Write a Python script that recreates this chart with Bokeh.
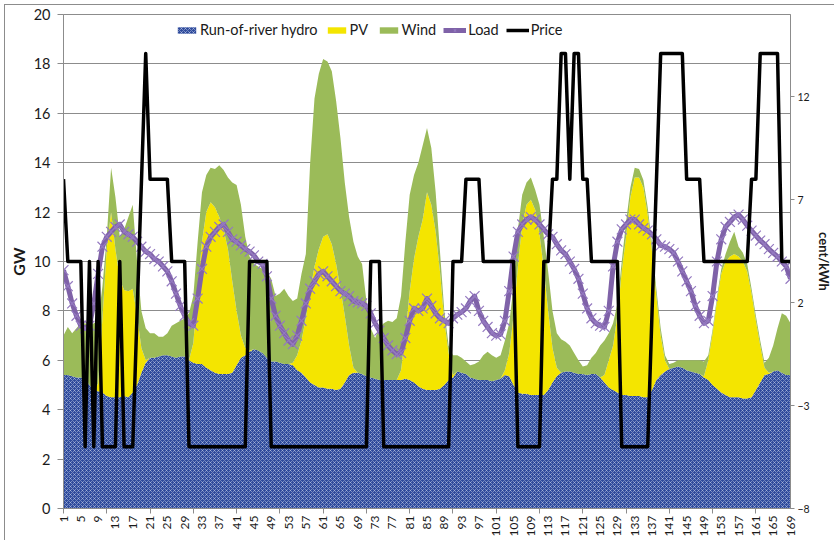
import math
from bokeh.plotting import figure
from bokeh.models import (ColumnDataSource, Range1d, LinearAxis, FixedTicker,
                          Legend, LegendItem)
from bokeh.transform import stack
from bokeh.embed import file_html
from bokeh.resources import INLINE

# ---------------- data ----------------
hours = list(range(1, 170))

hydro = [5.4, 5.4, 5.35, 5.3, 5.3, 5.25,
         5.0, 4.8, 4.75, 4.7, 4.55, 4.5,
         4.5, 4.5, 4.55, 4.5, 4.7, 5.0,
         5.5, 5.9, 6.1, 6.1, 6.15, 6.2,
         6.2, 6.15, 6.1, 6.15, 6.15, 6.0,
         5.9, 5.85, 5.85, 5.7, 5.6, 5.5,
         5.45, 5.45, 5.45, 5.5, 5.8, 6.1,
         6.2, 6.35, 6.45, 6.4, 6.3, 6.1,
         5.95, 5.95, 5.9, 5.85, 5.85, 5.8,
         5.6, 5.5, 5.3, 5.1, 5.0, 4.9,
         4.9, 4.85, 4.85, 4.8, 4.85, 5.1,
         5.4, 5.5, 5.5, 5.45, 5.35, 5.3,
         5.25, 5.2, 5.2, 5.2, 5.2, 5.2,
         5.2, 5.25, 5.2, 5.1, 4.95, 4.85,
         4.8, 4.8, 4.8, 4.85, 5.0, 5.2,
         5.3, 5.55, 5.5, 5.45, 5.3, 5.25,
         5.2, 5.2, 5.2, 5.15, 5.2, 5.25,
         5.4, 5.35, 5.0, 4.7, 4.65, 4.65,
         4.6, 4.6, 4.6, 4.6, 4.8, 5.1,
         5.35, 5.5, 5.55, 5.55, 5.5, 5.45,
         5.45, 5.4, 5.45, 5.45, 5.3, 5.1,
         4.9, 4.8, 4.7, 4.6, 4.6, 4.55,
         4.55, 4.55, 4.5, 4.5, 4.8, 5.2,
         5.4, 5.55, 5.65, 5.7, 5.75, 5.7,
         5.6, 5.55, 5.5, 5.45, 5.3, 5.2,
         5.0, 4.85, 4.7, 4.6, 4.5, 4.5,
         4.5, 4.45, 4.45, 4.5, 4.8, 5.1,
         5.4, 5.45, 5.55, 5.6, 5.5, 5.4, 5.4]

pv = [0, 0, 0, 0, 0, 0,
      0, 0, 0.3, 3.0, 6.0, 7.5,
      6.0, 4.8, 4.3, 4.3, 4.2, 2.8,
      1.0, 0.1, 0, 0, 0, 0,
      0, 0, 0, 0, 0, 0,
      0.8, 2.95, 4.95, 6.3, 6.8, 6.7,
      6.35, 5.85, 5.05, 3.7, 2.2, 0.9,
      0.3, 0.05, 0, 0, 0, 0,
      0, 0, 0, 0, 0, 0.1,
      0.6, 1.3, 2.4, 3.7, 4.8, 5.6,
      6.1, 6.25, 5.85, 5.1, 4.05, 2.7,
      1.2, 0.2, 0, 0, 0, 0,
      0, 0, 0, 0, 0, 0,
      0.4, 1.75, 3.6, 5.0, 6.05, 6.85,
      8.0, 7.5, 6.4, 4.75, 2.6, 1.1,
      0.1, 0, 0, 0, 0, 0,
      0, 0, 0, 0, 0, 0,
      0.2, 0.95, 2.8, 5.1, 6.85, 7.65,
      7.9, 7.5, 6.5, 5.1, 3.2, 1.4,
      0.35, 0, 0, 0, 0, 0,
      0, 0, 0, 0, 0, 0.3,
      1.1, 1.8, 3.1, 5.0, 6.4, 8.05,
      8.85, 8.85, 8.5, 7.4, 5.6, 3.4,
      1.6, 0.45, 0, 0, 0, 0,
      0, 0, 0, 0, 0.05, 0.8,
      2.1, 3.55, 4.8, 5.4, 5.7, 5.8,
      5.7, 5.55, 5.15, 4.2, 2.8, 1.5,
      0.3, 0.05, 0, 0, 0, 0, 0]

wind = [1.6, 1.95, 1.75, 2.0, 2.2, 2.25,
        2.4, 2.7, 2.55, 1.3, 0.45, 1.8,
        2.1, 1.7, 2.45, 3.0, 3.4, 2.2,
        1.5, 1.3, 1.0, 1.0, 0.8, 0.75,
        0.9, 1.25, 1.4, 1.45, 1.55, 1.9,
        1.9, 2.0, 2.0, 1.5, 1.4, 1.55,
        2.1, 2.4, 2.9, 4.0, 5.1, 5.3,
        4.5, 3.8, 3.45, 3.4, 3.4, 3.5,
        3.35, 2.65, 2.8, 3.05, 2.75, 2.5,
        2.3, 2.7, 2.6, 5.2, 6.8, 7.1,
        7.2, 7.0, 7.0, 6.6, 6.1, 5.4,
        5.2, 5.1, 4.7, 4.45, 3.05, 2.0,
        1.65, 2.1, 2.3, 2.4, 2.35, 2.5,
        3.0, 3.8, 3.9, 3.4, 3.0, 3.0,
        2.6, 2.3, 1.6, 0.8, 0.4, 0.3,
        0.8, 0.65, 0.6, 0.5, 0.5, 0.6,
        0.75, 1.0, 1.15, 1.05, 0.9, 0.95,
        1.2, 1.2, 1.2, 1.5, 1.2, 0.9,
        0.9, 0.8, 1.2, 1.3, 1.6, 1.5,
        1.4, 1.35, 1.2, 1.05, 0.8, 0.55,
        0.3, 0.4, 0.65, 0.85, 1.3, 1.4,
        1.1, 0.9, 0.5, 0.4, 0.6, 0.4,
        0.4, 0.35, 0.3, 0.3, 0.3, 0.3,
        0.3, 0.2, 0.2, 0.2, 0.25, 0.3,
        0.4, 0.45, 0.5, 0.55, 0.6, 0.2,
        0.15, 0.15, 0.2, 0.3, 0.6, 0.9,
        0.4, 0.35, 0.3, 0.2, 0.2, 0.2,
        0.2, 0.6, 1.05, 1.7, 2.4, 2.4, 2.1]

load = [9.65, 9.0, 8.3, 7.8, 7.4, 7.3,
        7.4, 8.3, 9.5, 10.6, 11.0, 11.2,
        11.4, 11.5, 11.2, 11.1, 11.0, 10.8,
        10.6, 10.4, 10.3, 10.1, 10.0, 9.8,
        9.6, 9.2, 8.7, 8.2, 7.8, 7.5,
        7.4, 8.5, 9.7, 10.6, 11.0, 11.2,
        11.4, 11.5, 11.2, 10.9, 10.8, 10.65,
        10.5, 10.4, 10.25, 10.0, 9.9, 9.4,
        8.5, 7.8, 7.4, 7.1, 6.8, 6.65,
        7.0, 7.6, 8.3, 8.9, 9.2, 9.5,
        9.6, 9.4, 9.2, 9.0, 8.8, 8.7,
        8.6, 8.4, 8.35, 8.3, 8.2, 7.9,
        7.5, 7.2, 6.9, 6.6, 6.4, 6.25,
        6.3, 6.9, 7.6, 8.1, 8.0, 8.1,
        8.5, 8.2, 7.9, 7.7, 7.6, 7.5,
        7.7, 7.85, 7.95, 8.1, 8.4, 8.6,
        8.0, 7.6, 7.35, 7.1, 7.0, 7.05,
        7.6, 8.8, 10.2, 11.2, 11.5, 11.7,
        11.8, 11.7, 11.5, 11.3, 11.1, 11.0,
        10.7, 10.45, 10.3, 10.0, 9.7, 9.3,
        8.7, 8.1, 7.7, 7.5, 7.4, 7.35,
        8.0, 9.8, 10.8, 11.3, 11.5, 11.7,
        11.7, 11.5, 11.35, 11.25, 11.1, 10.9,
        10.65, 10.6, 10.5, 10.35, 10.0, 9.6,
        9.2, 8.8, 8.2, 7.8, 7.5, 7.6,
        8.6, 10.0, 10.9, 11.4, 11.6, 11.8,
        11.9, 11.7, 11.45, 11.25, 11.05, 10.85,
        10.7, 10.5, 10.35, 10.2, 10.0, 9.8, 9.3]

price = [8, 4, 4, 4, 4, -5,
         4, -5, 4, -5, -5, -5,
         -5, 4, -5, -5, -5, 1.5,
         7.8, 14.1, 8, 8, 8, 8,
         8, 4, 4, 4, 4, -5,
         -5, -5, -5, -5, -5, -5,
         -5, -5, -5, -5, -5, -5,
         -5, 4, 4, 4, 4, 4,
         -5, -5, -5, -5, -5, -5,
         -5, -5, -5, -5, -5, -5,
         -5, -5, -5, -5, -5, -5,
         -5, -5, -5, -5, -5, 4,
         4, 4, -5, -5, -5, -5,
         -5, -5, -5, -5, -5, -5,
         -5, -5, -5, -5, -5, -5,
         4, 4, 4, 8, 8, 8,
         8, 4, 4, 4, 4, 4,
         4, 4, 4, -5, -5, -5,
         -5, -5, -5, 4, 4, 8,
         8, 14.1, 14.1, 8, 14.1, 14.1,
         8, 8, 4, 4, 4, 4,
         4, 4, 4, -5, -5, -5,
         -5, -5, -5, -5, 1.5, 7.8,
         14.1, 14.1, 14.1, 14.1, 14.1, 14.1,
         8, 8, 8, 8, 4, 4,
         4, 4, 4, 4, 4, 4,
         4, 4, 4, 8, 8, 14.1,
         14.1, 14.1, 14.1, 14.1, 4, 4, 4]

x_label_ticks = list(range(1, 170, 4))
x_mark_ticks = list(range(1, 170, 10))
gw_ticks = list(range(0, 21, 2))
price_ticks = [-8, -3, 2, 7, 12]

# ---------------- figure ----------------
FONT = "Lato"
GREY = "#8c8c8c"
TXT = "#1a1a1a"

src = ColumnDataSource(dict(hour=hours, hydro=hydro, pv=pv, wind=wind,
                            load=load, price=price))

p = figure(width=834, height=540, x_range=Range1d(1, 169),
           y_range=Range1d(0, 20), output_backend="svg",
           toolbar_location=None,
           min_border_left=63, min_border_right=43,
           min_border_top=14, min_border_bottom=32)
p.extra_y_ranges = {"price": Range1d(-8, 16)}
p.outline_line_color = GREY
p.background_fill_color = "white"
p.border_fill_color = None
# chart-area frame line (top and left edges, as in the reference)
p.styles = {
    "background-color": "white",
    "background-image": "linear-gradient(#8c8c8c, #8c8c8c), linear-gradient(#8c8c8c, #8c8c8c)",
    "background-size": "100% 1px, 1px 100%",
    "background-position": "4px 4px, 4px 4px",
    "background-repeat": "no-repeat",
}

r_hydro = p.varea(x="hour", y1=0, y2=stack("hydro"), source=src,
                  fill_color="#2f4b9c", hatch_pattern="x",
                  hatch_color="#e3e9f8", hatch_alpha=0.6,
                  hatch_scale=4, hatch_weight=0.7)
r_pv = p.varea(x="hour", y1=stack("hydro"), y2=stack("hydro", "pv"),
               source=src, fill_color="#f4e500")
r_wind = p.varea(x="hour", y1=stack("hydro", "pv"),
                 y2=stack("hydro", "pv", "wind"), source=src,
                 fill_color="#9bbb59")

r_load = p.line("hour", "load", source=src, line_color="#7f62a8",
                line_width=5, line_join="round")
r_load_m = p.scatter("hour", "load", source=src, marker="x", size=14,
                     line_color="#9479c0", line_width=1.2)

r_price = p.line("hour", "price", source=src, y_range_name="price",
                 line_color="black", line_width=3.5, line_join="round")

# grid
p.xgrid.visible = False
p.ygrid.ticker = FixedTicker(ticks=gw_ticks)
p.ygrid.grid_line_color = GREY

# bottom axis
xa = p.xaxis[0]
xa.ticker = FixedTicker(ticks=x_label_ticks, minor_ticks=x_mark_ticks)
xa.major_label_orientation = math.pi / 2
xa.major_tick_line_color = None
xa.major_tick_out = 4
xa.major_tick_in = 0
xa.minor_tick_line_color = GREY
xa.minor_tick_out = 5
xa.minor_tick_in = 0
xa.major_label_standoff = 2
xa.major_label_text_font = FONT
xa.major_label_text_font_size = "12px"
xa.major_label_text_color = TXT
xa.axis_line_color = GREY

# left axis
ya = p.yaxis[0]
ya.ticker = FixedTicker(ticks=gw_ticks)
ya.minor_tick_line_color = None
ya.major_tick_line_color = GREY
ya.major_tick_out = 6
ya.major_tick_in = 0
ya.major_label_standoff = 7
ya.major_label_text_font = FONT
ya.major_label_text_font_size = "14.5px"
ya.major_label_text_color = TXT
ya.axis_line_color = GREY
ya.axis_label = "GW"
ya.axis_label_text_font = FONT
ya.axis_label_text_font_style = "bold"
ya.axis_label_text_font_size = "16px"
ya.axis_label_text_color = TXT
ya.axis_label_standoff = 3

# right axis
ra = LinearAxis(y_range_name="price", ticker=FixedTicker(ticks=price_ticks))
ra.axis_label = "cent/kWh"
ra.axis_label_text_font = FONT
ra.axis_label_text_font_style = "bold"
ra.axis_label_text_font_size = "13px"
ra.axis_label_text_color = TXT
ra.axis_label_standoff = 3
ra.minor_tick_line_color = None
ra.major_tick_line_color = GREY
ra.major_tick_out = 4
ra.major_tick_in = 0
ra.major_label_standoff = 3
ra.major_label_text_font = FONT
ra.major_label_text_font_size = "10.5px"
ra.major_label_text_color = TXT
ra.axis_line_color = GREY
p.add_layout(ra, "right")

# legend
legend = Legend(items=[
    LegendItem(label="Run-of-river hydro", renderers=[r_hydro]),
    LegendItem(label="PV", renderers=[r_pv]),
    LegendItem(label="Wind", renderers=[r_wind]),
    LegendItem(label="Load", renderers=[r_load, r_load_m]),
    LegendItem(label="Price", renderers=[r_price]),
], location=(112, 470), orientation="horizontal")
legend.background_fill_alpha = 0
legend.border_line_alpha = 0
legend.padding = 0
legend.margin = 0
legend.spacing = 7
legend.glyph_width = 23
legend.glyph_height = 8
legend.label_height = 16
legend.label_standoff = 2
legend.label_text_font = FONT
legend.label_text_font_size = "14.5px"
legend.label_text_color = TXT
p.add_layout(legend)

open("out.html", "w").write(file_html(p, INLINE))
